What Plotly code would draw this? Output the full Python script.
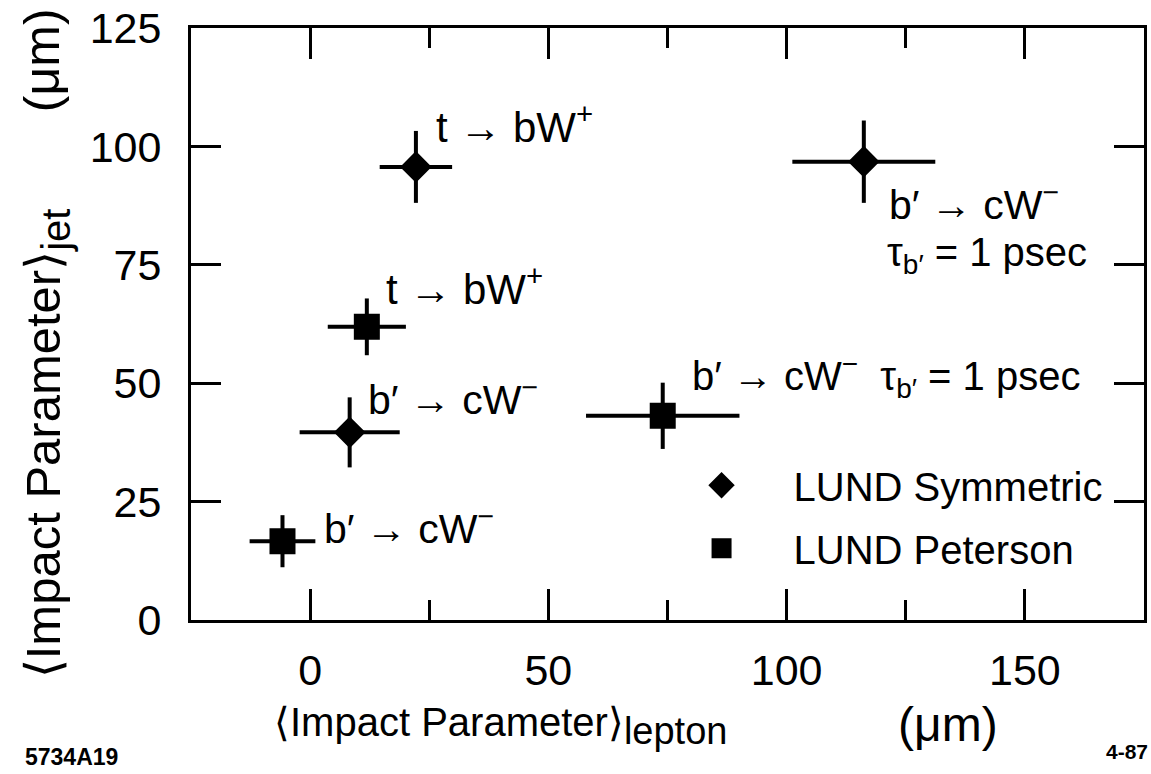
import plotly.graph_objects as go

# ---------------- data ----------------
series_names = ["LUND Symmetric", "LUND Peterson"]

sym_x = [22.2, 8.3, 116.2]
sym_y = [95.7, 39.6, 96.8]
sym_ex = [7.6, 10.5, 15.0]
sym_ey = [7.6, 7.4, 8.7]

pet_x = [11.9, -5.8, 74.0]
pet_y = [61.9, 16.6, 43.1]
pet_ex = [8.2, 6.9, 16.1]
pet_ey = [6.0, 5.5, 7.0]

x_tick_vals = [0, 50, 100, 150]
y_tick_vals = [0, 25, 50, 75, 100, 125]

label_texts = [
    "t → bW<sup>+</sup>",
    "t → bW<sup>+</sup>",
    "b′ → cW<sup>−</sup>",
    "b′ → cW<sup>−</sup>",
    "b′ → cW<sup>−</sup>",
    "τ<sub>b′</sub> = 1 psec",
    "b′ → cW<sup>−</sup>  τ<sub>b′</sub> = 1 psec",
]
label_x = [26.0, 15.6, 11.8, 2.4, 121.0, 120.6, 79.8]
label_y = [104.8, 70.6, 47.0, 19.8, 88.3, 77.0, 51.5]
label_size = [42, 42, 41, 41, 41, 40, 40]

FONT = "Liberation Sans, Arial, sans-serif"
BLACK = "black"

fig = go.Figure()

fig.add_trace(go.Scatter(
    x=sym_x, y=sym_y, mode="markers", name=series_names[0],
    legendgroup="a",
    marker=dict(symbol="diamond", size=20, color=BLACK,
                line=dict(color=BLACK, width=4)),
    error_x=dict(type="data", array=sym_ex, visible=True, color=BLACK,
                 thickness=4, width=0),
    error_y=dict(type="data", array=sym_ey, visible=True, color=BLACK,
                 thickness=4, width=0),
))
fig.add_trace(go.Scatter(
    x=pet_x, y=pet_y, mode="markers", name=series_names[1],
    legendgroup="b",
    marker=dict(symbol="square", size=22, color=BLACK,
                line=dict(color=BLACK, width=4)),
    error_x=dict(type="data", array=pet_ex, visible=True, color=BLACK,
                 thickness=4, width=0),
    error_y=dict(type="data", array=pet_ey, visible=True, color=BLACK,
                 thickness=4, width=0),
))

annotations = []
for t, lx, ly, ls in zip(label_texts, label_x, label_y, label_size):
    annotations.append(dict(
        x=lx, y=ly, xref="x", yref="y", text=t, showarrow=False,
        xanchor="left", yanchor="middle",
        font=dict(family=FONT, size=ls, color=BLACK),
    ))

# axis titles
annotations.append(dict(
    x=(272 - 191) / 956, y=(620 - 727) / 598, xref="paper", yref="paper",
    text="⟨Impact Parameter⟩<sub><span style='font-size:38px'>lepton</span></sub>",
    showarrow=False, xanchor="left", yanchor="middle",
    font=dict(family=FONT, size=40, color=BLACK),
))
annotations.append(dict(
    x=(898 - 191) / 956, y=(620 - 726) / 598, xref="paper", yref="paper",
    text="(μm)", showarrow=False, xanchor="left", yanchor="middle",
    font=dict(family=FONT, size=48, color=BLACK),
))
annotations.append(dict(
    x=(46 - 191) / 956, y=(620 - 441) / 598, xref="paper", yref="paper",
    text="⟨Impact Parameter⟩<sub><span style='font-size:40px'>jet</span></sub>",
    showarrow=False,
    textangle=-90, xanchor="center", yanchor="middle",
    font=dict(family=FONT, size=49, color=BLACK),
))
annotations.append(dict(
    x=(41 - 191) / 956, y=(620 - 54) / 598, xref="paper", yref="paper",
    text="(μm)", showarrow=False,
    textangle=-90, xanchor="center", yanchor="middle",
    font=dict(family=FONT, size=50, color=BLACK),
))
# corner labels
annotations.append(dict(
    x=(22 - 191) / 956, y=(620 - 758) / 598, xref="paper", yref="paper",
    text="<b>5734A19</b>", showarrow=False, xanchor="left", yanchor="middle",
    font=dict(family=FONT, size=23, color=BLACK),
))
annotations.append(dict(
    x=(1107 - 191) / 956, y=(620 - 753) / 598, xref="paper", yref="paper",
    text="<b>4-87</b>", showarrow=False, xanchor="left", yanchor="middle",
    font=dict(family=FONT, size=21, color=BLACK),
))

axis_common = dict(
    showgrid=False, zeroline=False, showline=True, linewidth=3,
    linecolor=BLACK, mirror="ticks", ticks="inside", tickwidth=3,
    tickcolor=BLACK, tickfont=dict(family=FONT, size=43, color=BLACK),
    ticklabeloverflow="allow",
)

fig.update_xaxes(
    range=[-25, 175], tickvals=x_tick_vals, ticklen=31,
    ticklabelstandoff=10,
    minor=dict(dtick=25, tick0=0, ticks="inside", ticklen=20, tickwidth=3,
               tickcolor=BLACK, showgrid=False),
    **axis_common,
)
fig.update_yaxes(
    range=[-0.05, 125.05], tickvals=y_tick_vals, ticklen=30,
    ticklabelstandoff=18,
    **axis_common,
)

fig.update_layout(
    width=1151, height=774,
    margin=dict(l=191, r=4, t=22, b=154),
    paper_bgcolor="white", plot_bgcolor="white",
    showlegend=True,
    legend=dict(
        x=(651 - 191) / 956, y=(620 - 451) / 598, xanchor="left",
        yanchor="top", itemwidth=134, bgcolor="rgba(0,0,0,0)",
        traceorder="grouped", tracegroupgap=8,
        font=dict(family=FONT, size=40, color=BLACK),
    ),
    annotations=annotations,
)

fig.write_html("out.html")
